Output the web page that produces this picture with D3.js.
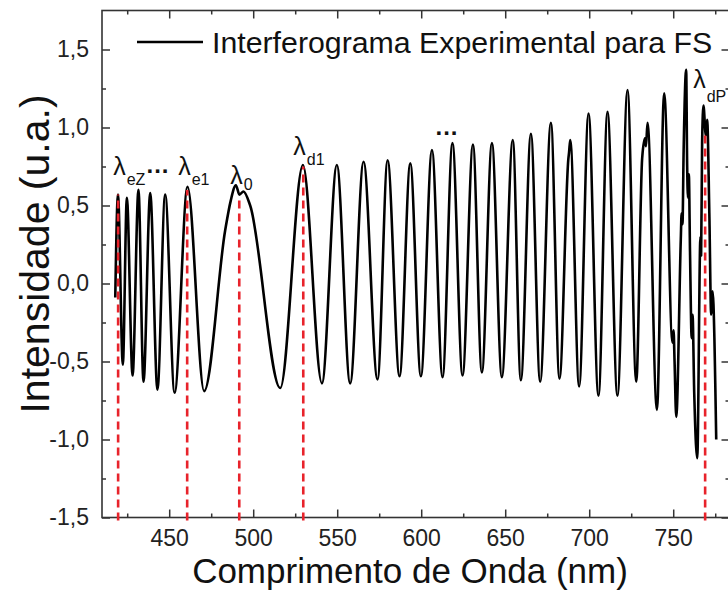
<!DOCTYPE html>
<html>
<head>
<meta charset="utf-8">
<script src="https://cdn.jsdelivr.net/npm/d3@7"></script>
<style>
  html, body { margin: 0; padding: 0; background: #fff; }
  svg { display: block; font-family: "Liberation Sans", Arial, sans-serif; }
</style>
</head>
<body>
<svg id="chart" width="728" height="592"></svg>
<script>
// Interferogram (FS sample): turning points and small ripples of the measured trace
const wavelength = [
  417.9, 419.5, 422.4, 424.8, 428.2, 431.7, 434.7, 438.7, 443.0, 447.6,
  453.2, 460.9, 470.8, 483.3, 486.6, 489.7, 491.8, 494.2, 498.2, 516.1,
  529.6, 540.9, 549.8, 557.7, 565.7, 574.0, 580.0, 587.1, 593.5, 599.8,
  606.4, 612.7, 618.6, 624.6, 630.8, 636.1, 642.1, 648.0, 654.5, 659.3,
  665.3, 670.8, 677.2, 682.3, 687.6, 688.0, 688.7, 694.0, 699.6, 705.5,
  710.9, 716.8, 722.8, 728.0, 731.5, 733.2, 733.8, 734.7, 740.3, 744.6,
  749.6, 750.2, 750.8, 751.8, 754.5, 755.0, 755.5, 756.2, 757.7, 758.3,
  758.8, 759.3, 760.0, 761.0, 761.5, 762.5, 764.3, 766.2, 766.6, 767.2,
  768.0, 769.4, 770.2, 771.5, 772.6, 773.4, 775.6
];
const intensity = [
  -0.09, 0.57, -0.52, 0.55, -0.59, 0.60, -0.63, 0.58, -0.68, 0.57,
  -0.70, 0.62, -0.69, 0.34, 0.53, 0.63, 0.57, 0.59, 0.50, -0.67,
  0.76, -0.64, 0.76, -0.64, 0.78, -0.615, 0.79, -0.595, 0.77, -0.595,
  0.855, -0.60, 0.90, -0.59, 0.89, -0.57, 0.90, -0.60, 0.92, -0.62,
  0.96, -0.63, 1.03, -0.61, 0.80, 0.84, 0.92, -0.66, 1.09, -0.72,
  1.10, -0.72, 1.24, -0.63, 0.80, 0.93, 0.88, 1.03, -0.81, 1.22,
  -0.38, -0.30, -0.50, -0.855, 0.28, 0.45, 0.38, 0.85, 1.37, 0.75,
  0.55, 0.70, 0.20, -0.35, -0.20, -0.70, -1.12, 0.30, 0.18, 0.90,
  1.14, 0.95, 1.05, 0.45, -0.20, -0.05, -1.00
];

// Characteristic wavelengths marked with dashed guides
const markerWavelength = [419.6, 460.7, 491.7, 529.8, 769.0];
const markerTop = [0.57, 0.60, 0.55, 0.75, 0.97];
const markerSub = ["eZ", "e1", "0", "d1", "dP"];

const xTicks = [450, 500, 550, 600, 650, 700, 750];
const xMinorTicks = [425, 475, 525, 575, 625, 675, 725, 775];
const yTicks = [-1.5, -1.0, -0.5, 0.0, 0.5, 1.0, 1.5];
const yMinorTicks = [-1.25, -0.75, -0.25, 0.25, 0.75, 1.25];
const yTickLabels = ["-1,5", "-1,0", "-0,5", "0,0", "0,5", "1,0", "1,5"];

const legendLabel = "Interferograma Experimental para FS";
const xTitle = "Comprimento de Onda (nm)";
const yTitle = "Intensidade (u.a.)";

const svg = d3.select("#chart");
const plotLeft = 102, plotRight = 729.5, plotTop = 10.5, plotBottom = 517.5;

const x = d3.scaleLinear().domain([410, 783.5]).range([plotLeft, plotRight]);
const y = d3.scaleLinear().domain([-1.5, 1.75]).range([plotBottom, plotTop]);

const axisColor = "#333";
const tickFont = 23;

// ---- frame and ticks (all inward) ----
function styleAxis(g) {
  g.select(".domain").remove();
  g.selectAll("line").attr("stroke", axisColor).attr("stroke-width", 1.5);
  g.selectAll("text").attr("font-size", tickFont).attr("fill", "#222");
}

const yLabel = d => yTickLabels[yTicks.indexOf(d)];

svg.append("g").attr("transform", `translate(0,${plotBottom})`)
  .call(d3.axisBottom(x).tickValues(xTicks).tickSize(-8).tickPadding(12).tickFormat(d3.format("d")))
  .call(styleAxis);
svg.append("g").attr("transform", `translate(0,${plotBottom})`)
  .call(d3.axisBottom(x).tickValues(xMinorTicks).tickSize(-4).tickFormat(""))
  .call(styleAxis);
svg.append("g").attr("transform", `translate(0,${plotTop})`)
  .call(d3.axisTop(x).tickValues(xTicks).tickSize(-8).tickFormat(""))
  .call(styleAxis);
svg.append("g").attr("transform", `translate(0,${plotTop})`)
  .call(d3.axisTop(x).tickValues(xMinorTicks).tickSize(-4).tickFormat(""))
  .call(styleAxis);

svg.append("g").attr("transform", `translate(${plotLeft},0)`)
  .call(d3.axisLeft(y).tickValues(yTicks).tickSize(-8).tickPadding(13).tickFormat(yLabel))
  .call(styleAxis);
svg.append("g").attr("transform", `translate(${plotLeft},0)`)
  .call(d3.axisLeft(y).tickValues(yMinorTicks).tickSize(-4).tickFormat(""))
  .call(styleAxis);
svg.append("g").attr("transform", `translate(${plotRight},0)`)
  .call(d3.axisRight(y).tickValues(yTicks).tickSize(-8).tickFormat(""))
  .call(styleAxis);
svg.append("g").attr("transform", `translate(${plotRight},0)`)
  .call(d3.axisRight(y).tickValues(yMinorTicks).tickSize(-4).tickFormat(""))
  .call(styleAxis);

svg.append("rect")
  .attr("x", plotLeft).attr("y", plotTop)
  .attr("width", plotRight - plotLeft).attr("height", plotBottom - plotTop)
  .attr("fill", "none").attr("stroke", axisColor).attr("stroke-width", 1.6);

// ---- the interferogram trace ----
const points = wavelength.map((w, i) => [w, intensity[i]]);
const line = d3.line()
  .x(d => x(d[0]))
  .y(d => y(d[1]))
  .curve(d3.curveMonotoneX);

svg.append("path")
  .datum(points)
  .attr("d", line)
  .attr("fill", "none")
  .attr("stroke", "#000")
  .attr("stroke-width", 2.6)
  .attr("stroke-linejoin", "round");

// ---- dashed guides at the characteristic wavelengths ----
svg.append("g").selectAll("line")
  .data(markerWavelength)
  .join("line")
  .attr("x1", d => x(d)).attr("x2", d => x(d))
  .attr("y1", y(-1.52))
  .attr("y2", (d, i) => y(markerTop[i]))
  .attr("stroke", "#e8232b")
  .attr("stroke-width", 2.6)
  .attr("stroke-dasharray", "8,5");

// ---- λ labels ----
// label anchor: horizontal shift from the guide, baseline of λ, drop of the subscript
const labelLayout = [
  { dx: -5,  base: 175, sub: 10 },
  { dx: -9,  base: 175, sub: 10 },
  { dx: -9,  base: 184, sub: 6 },
  { dx: -10, base: 155, sub: 10 },
  { dx: -12, base: 88,  sub: 14 }
];
const lab = svg.append("g").attr("fill", "#111");
markerWavelength.forEach((w, i) => {
  const L = labelLayout[i];
  const t = lab.append("text")
    .attr("x", x(w) + L.dx)
    .attr("y", L.base)
    .attr("font-size", 25);
  t.append("tspan").text("λ");
  t.append("tspan").attr("font-size", 16).attr("dy", L.sub).attr("dx", 1).text(markerSub[i]);
});

// ellipses between labels
lab.append("text").attr("x", x(436.5)).attr("y", 173)
  .attr("font-size", 24).attr("font-weight", "bold").attr("letter-spacing", 1).text("...");
lab.append("text").attr("x", x(608.5)).attr("y", 135)
  .attr("font-size", 24).attr("font-weight", "bold").attr("letter-spacing", 1).text("...");

// ---- legend ----
svg.append("line")
  .attr("x1", 137).attr("x2", 203).attr("y1", 42).attr("y2", 42)
  .attr("stroke", "#000").attr("stroke-width", 2.6);
svg.append("text")
  .attr("x", 212).attr("y", 53)
  .attr("font-size", 30.3).attr("fill", "#111")
  .text(legendLabel);

// ---- axis titles ----
svg.append("text")
  .attr("x", 410).attr("y", 583)
  .attr("text-anchor", "middle")
  .attr("font-size", 35).attr("fill", "#111")
  .text(xTitle);
svg.append("text")
  .attr("transform", `translate(49,254) rotate(-90)`)
  .attr("text-anchor", "middle")
  .attr("font-size", 41).attr("fill", "#111")
  .text(yTitle);
</script>
</body>
</html>
